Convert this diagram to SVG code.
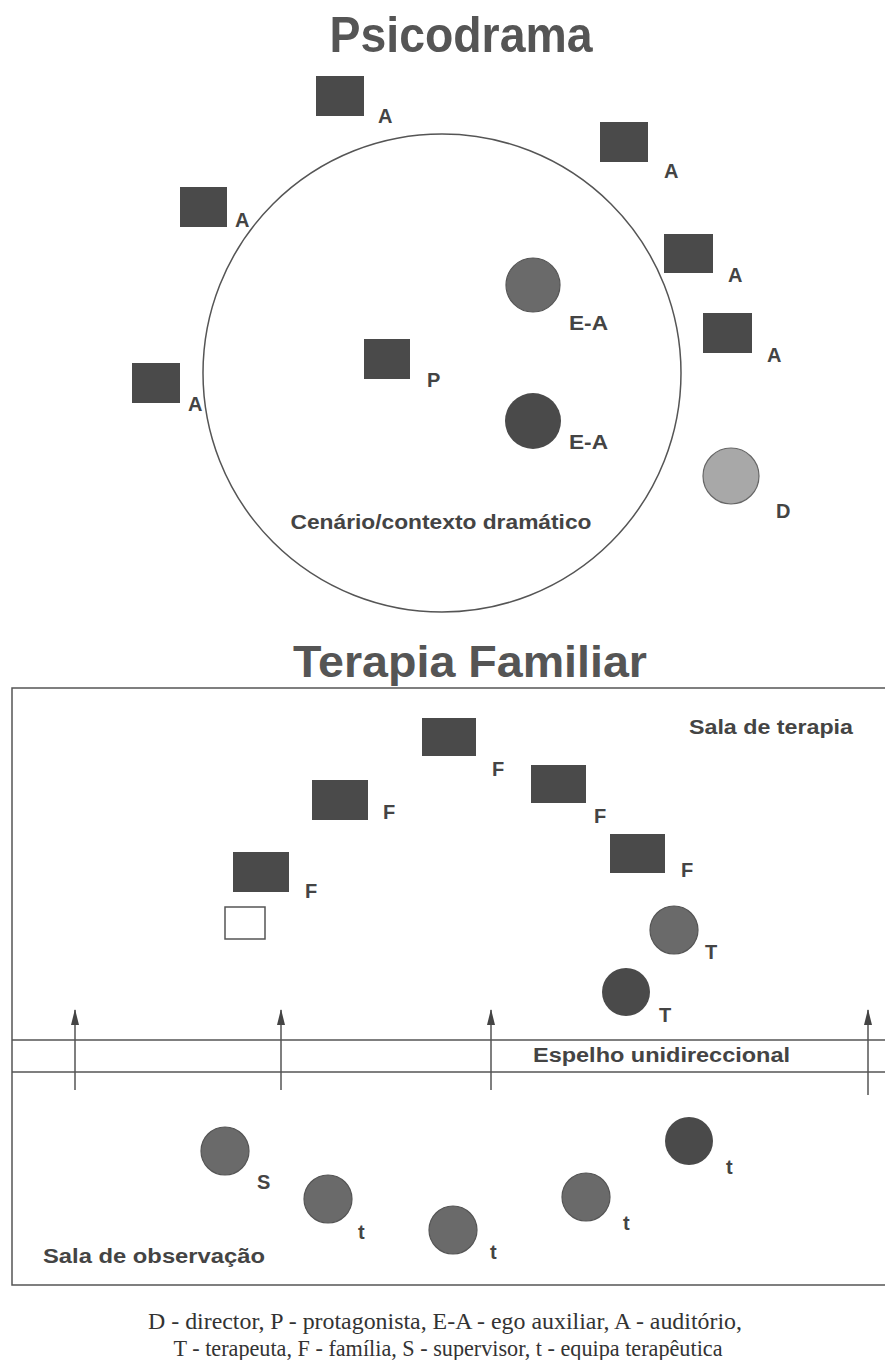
<svg xmlns="http://www.w3.org/2000/svg" width="885" height="1360" viewBox="0 0 885 1360">
<style>
.sq{fill:#4a4a4a}
.lbl{font-family:"Liberation Sans",Arial,sans-serif;font-weight:bold;font-size:20px;fill:#444}
.ttl{font-family:"Liberation Sans",Arial,sans-serif;font-weight:bold;fill:#555}
.ln{stroke:#555;stroke-width:1.5;fill:none}
.tex{fill:#6a6a6a;stroke:#555;stroke-width:1.2}
.lt{fill:#a8a8a8;stroke:#666;stroke-width:1.2}
.sol{fill:#4a4a4a}
.leg{font-family:"Liberation Serif","Times New Roman",serif;font-size:23px;fill:#333}
</style>
<defs>
<marker id="ah" markerWidth="16" markerHeight="8" refX="15" refY="4" orient="auto" markerUnits="userSpaceOnUse" viewBox="0 0 16 8">
<path d="M0,0 L16,4 L0,8 Z" fill="#444"/>
</marker>
</defs>
<rect width="885" height="1360" fill="#fff"/>

<text class="ttl" x="461" y="52" font-size="50" text-anchor="middle" textLength="263" lengthAdjust="spacingAndGlyphs">Psicodrama</text>

<g id="stage">
<circle cx="442" cy="373" r="239" class="ln"/>
<text class="lbl" x="441" y="529" font-size="18" text-anchor="middle" textLength="301" lengthAdjust="spacingAndGlyphs">Cenário/contexto dramático</text>
</g>
<g id="a1"><rect class="sq" x="316" y="76" width="48" height="40"/><text class="lbl" x="378" y="123">A</text></g>
<g id="a2"><rect class="sq" x="180" y="187" width="47" height="40"/><text class="lbl" x="235" y="227">A</text></g>
<g id="a3"><rect class="sq" x="600" y="122" width="48" height="40"/><text class="lbl" x="664" y="178">A</text></g>
<g id="a4"><rect class="sq" x="664" y="234" width="49" height="39"/><text class="lbl" x="728" y="282">A</text></g>
<g id="a5"><rect class="sq" x="703" y="313" width="49" height="40"/><text class="lbl" x="767" y="362">A</text></g>
<g id="a6"><rect class="sq" x="132" y="363" width="48" height="40"/><text class="lbl" x="188" y="411">A</text></g>
<g id="p"><rect class="sq" x="364" y="339" width="46" height="40"/><text class="lbl" x="427" y="387">P</text></g>
<g id="ea1"><circle class="tex" cx="533" cy="285" r="27"/><text class="lbl" x="569" y="330" textLength="39" lengthAdjust="spacingAndGlyphs">E-A</text></g>
<g id="ea2"><circle class="sol" cx="533" cy="421" r="28"/><text class="lbl" x="569" y="449" textLength="39" lengthAdjust="spacingAndGlyphs">E-A</text></g>
<g id="d"><circle class="lt" cx="731" cy="476" r="28"/><text class="lbl" x="776" y="518">D</text></g>

<text class="ttl" x="470" y="677" font-size="45" text-anchor="middle" textLength="354" lengthAdjust="spacingAndGlyphs">Terapia Familiar</text>

<g id="room">
<path class="ln" d="M885,688 H12 V1285 H885"/>
<text class="lbl" x="853" y="734" font-size="19" text-anchor="end" textLength="164" lengthAdjust="spacingAndGlyphs">Sala de terapia</text>
<text class="lbl" x="43" y="1263" font-size="19" textLength="222" lengthAdjust="spacingAndGlyphs">Sala de observação</text>
</g>
<g id="mirror">
<line class="ln" x1="12" y1="1040" x2="885" y2="1040"/>
<line class="ln" x1="12" y1="1072" x2="885" y2="1072"/>
<text class="lbl" x="533" y="1062" font-size="19" textLength="257" lengthAdjust="spacingAndGlyphs">Espelho unidireccional</text>
</g>
<g id="f1"><rect class="sq" x="422" y="718" width="54" height="38"/><text class="lbl" x="492" y="776">F</text></g>
<g id="f2"><rect class="sq" x="312" y="780" width="56" height="40"/><text class="lbl" x="383" y="819">F</text></g>
<g id="f3"><rect class="sq" x="531" y="765" width="55" height="38"/><text class="lbl" x="594" y="823">F</text></g>
<g id="f4"><rect class="sq" x="233" y="852" width="56" height="40"/><text class="lbl" x="305" y="898">F</text></g>
<g id="f5"><rect class="sq" x="610" y="834" width="55" height="39"/><text class="lbl" x="681" y="877">F</text></g>
<g id="empty"><rect x="225" y="907" width="40" height="32" fill="#fff" stroke="#555" stroke-width="1.5"/></g>
<g id="t1"><circle class="tex" cx="674" cy="930" r="24"/><text class="lbl" x="705" y="959">T</text></g>
<g id="t2"><circle class="sol" cx="626" cy="992" r="24"/><text class="lbl" x="659" y="1022">T</text></g>
<g id="s"><circle class="tex" cx="225" cy="1151" r="24"/><text class="lbl" x="257" y="1189">S</text></g>
<g id="e1"><circle class="tex" cx="328" cy="1199" r="24"/><text class="lbl" x="358" y="1239">t</text></g>
<g id="e2"><circle class="tex" cx="453" cy="1230" r="24"/><text class="lbl" x="490" y="1259">t</text></g>
<g id="e3"><circle class="tex" cx="586" cy="1197" r="24"/><text class="lbl" x="623" y="1230">t</text></g>
<g id="e4"><circle class="sol" cx="689" cy="1141" r="24"/><text class="lbl" x="726" y="1174">t</text></g>

<g id="connectors">
<line class="ln" x1="75" y1="1090" x2="75" y2="1010" marker-end="url(#ah)"/>
<line class="ln" x1="281" y1="1090" x2="281" y2="1010" marker-end="url(#ah)"/>
<line class="ln" x1="491" y1="1090" x2="491" y2="1010" marker-end="url(#ah)"/>
<line class="ln" x1="868" y1="1095" x2="868" y2="1010" marker-end="url(#ah)"/>
</g>

<g id="legend">
<text class="leg" x="445" y="1329" text-anchor="middle" textLength="594" lengthAdjust="spacingAndGlyphs">D - director, P - protagonista, E-A - ego auxiliar, A - auditório,</text>
<text class="leg" x="448" y="1356" text-anchor="middle" textLength="549" lengthAdjust="spacingAndGlyphs">T - terapeuta, F - família, S - supervisor, t - equipa terapêutica</text>
</g>
</svg>
